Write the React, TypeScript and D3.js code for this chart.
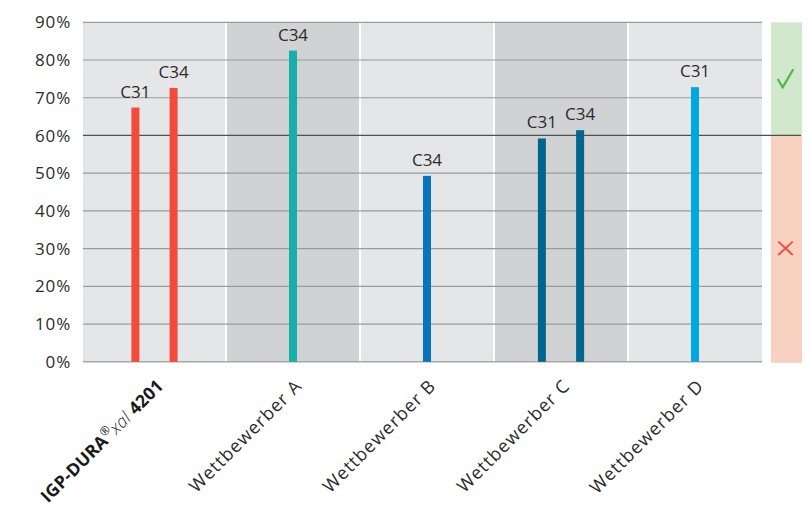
import React from "react";
import * as d3 from "d3";

const categories = ["IGP", "Wettbewerber A", "Wettbewerber B", "Wettbewerber C", "Wettbewerber D"];
const bars = [
  { cat: "IGP", label: "C31", value: 67.4, slot: -1 },
  { cat: "IGP", label: "C34", value: 72.6, slot: 1 },
  { cat: "Wettbewerber A", label: "C34", value: 82.5, slot: 0 },
  { cat: "Wettbewerber B", label: "C34", value: 49.3, slot: 0 },
  { cat: "Wettbewerber C", label: "C31", value: 59.2, slot: -1 },
  { cat: "Wettbewerber C", label: "C34", value: 61.4, slot: 1 },
  { cat: "Wettbewerber D", label: "C31", value: 72.8, slot: 0 },
];
const catColors = ["#f24a3b", "#17afac", "#0b72bd", "#00668e", "#00a8e1"];
const panelFills = ["#e5e6e8", "#d1d2d4", "#e5e6e8", "#d1d2d4", "#e5e6e8"];
const yTicks = [0, 10, 20, 30, 40, 50, 60, 70, 80, 90];
const threshold = 60;

const W = 810, H = 507;
const left = 83, right = 762, top = 22.3, bottom = 361.8;
const font = "'Open Sans', sans-serif";

export default function App() {
  const x = d3.scaleBand<string>().domain(categories).range([92, right]).padding(0);
  const y = d3.scaleLinear().domain([0, 90]).range([bottom, top]);
  const bw = x.bandwidth();
  const barW = 8;
  const offset = 19.1;
  const panel = (c: string, i: number) => {
    const x0 = i === 0 ? left : (x(c) as number);
    const x1 = (x(c) as number) + bw;
    return [x0, x1];
  };
  const center = (c: string, i: number) => {
    const [a, b] = panel(c, i);
    return (a + b) / 2;
  };

  return (
    <svg width={W} height={H} style={{ position: "absolute", left: 0, top: 0, fontFamily: font }}>
      <rect x={0} y={0} width={W} height={H} fill="#fff" />
      {categories.map((c, i) => {
        const [a, b] = panel(c, i);
        return (
          <rect key={c} x={a + (i > 0 ? 1 : 0)} y={top} width={b - a - (i > 0 ? 1 : 0) - (i < categories.length - 1 ? 1 : 0)} height={bottom - top} fill={panelFills[i]} />
        );
      })}
      {yTicks.map((t) => (
        <g key={t}>
          {t !== 0 && t !== threshold && (
            <line x1={left} x2={right} y1={y(t)} y2={y(t)} stroke="#9a9a9c" strokeWidth={1.2} />
          )}
          <text x={71} y={y(t)} dy="0.36em" textAnchor="end" fontSize={17} letterSpacing={0.8} fill="#2b2b2b">{t}%</text>
        </g>
      ))}
      <line x1={left} x2={right} y1={bottom} y2={bottom} stroke="#a8a8aa" strokeWidth={1.5} />
      {/* indicator column */}
      <rect x={771} y={y(90)} width={31} height={y(threshold) - y(90)} fill="#d2e8cc" />
      <rect x={771} y={y(threshold)} width={31} height={y(0) - y(threshold) + 1} fill="#f9d1c1" />
      <path d="M777.7,79 L782.7,87.3 L793.3,69.3" fill="none" stroke="#4cb848" strokeWidth={2.2} />
      <path d="M778.3,241.7 L792.7,255 M792.7,241.7 L778.3,255" fill="none" stroke="#f04a3c" strokeWidth={1.8} />
      <line x1={left} x2={801} y1={y(threshold)} y2={y(threshold)} stroke="#505052" strokeWidth={1.3} />
      {bars.map((b, i) => {
        const ci = categories.indexOf(b.cat);
        const cx = center(b.cat, ci) + b.slot * offset;
        return (
          <g key={i}>
            <rect x={cx - barW / 2} y={y(b.value)} width={barW} height={bottom - y(b.value)} fill={catColors[ci]} />
            <text x={cx} y={y(b.value) - 10} textAnchor="middle" fontSize={17} fill="#2b2b2b">{b.label}</text>
          </g>
        );
      })}
      {categories.map((c, i) => {
        const cx = center(c, i);
        return (
          <g key={c} transform={`translate(${cx + 10},${387}) rotate(-45)`}>
            {i === 0 ? (
              <text textAnchor="end" fontSize={17.5} letterSpacing={0.2} fill="#1a1a1a">
                <tspan fontWeight="bold">IGP-DURA</tspan>
                <tspan fontSize={12} dy={-7}>®</tspan>
                <tspan dy={7} fontStyle="italic" fontWeight={300}>xal</tspan>
                <tspan fontWeight="bold"> 4201</tspan>
              </text>
            ) : (
              <text textAnchor="end" fontSize={18} letterSpacing={1} fill="#2b2b2b">{c}</text>
            )}
          </g>
        );
      })}
    </svg>
  );
}
